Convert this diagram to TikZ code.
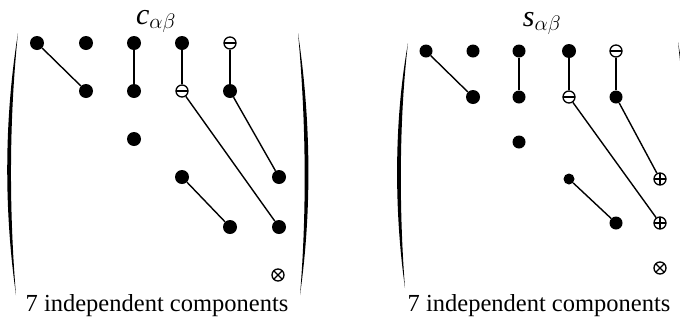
\RequirePackage{fix-cm}
\documentclass[tikz,border=0pt]{standalone}
\usepackage{fontspec}
\setmainfont{Liberation Serif}
\usepackage{tikz}

\begin{document}
\begin{tikzpicture}[x=1pt,y=-1pt,
  dot/.style={circle,fill,inner sep=0pt,minimum size=14pt},
  sdot/.style={dot,minimum size=13pt},
  tdot/.style={dot,minimum size=11pt},
  ring/.style={circle,draw,line width=1.3pt,inner sep=0pt,minimum size=12pt},
  minusring/.style={ring,path picture={\draw[line width=1.3pt] (path picture bounding box.west) -- (path picture bounding box.east);}},
  plusring/.style={ring,path picture={\draw[line width=1.3pt] (path picture bounding box.west) -- (path picture bounding box.east) (path picture bounding box.north) -- (path picture bounding box.south);}},
  timesring/.style={ring,path picture={\draw[line width=1.3pt] (path picture bounding box.north west) -- (path picture bounding box.south east) (path picture bounding box.north east) -- (path picture bounding box.south west);}},
  link/.style={line width=1.4pt},
  title/.style={anchor=base,inner sep=0pt,font=\fontsize{30}{34}\selectfont},
  caption/.style={font=\fontsize{24.5}{29}\selectfont}]
\useasboundingbox (0,0) rectangle (680,322);
% c matrix
\node[title] (ctitle) at (156,24) {\textit{c}$_{\alpha\beta}$};
\node[dot] (c11) at (37,43) {};
\node[dot] (c12) at (86,43) {};
\node[dot] (c13) at (134,43) {};
\node[dot] (c14) at (182,43) {};
\node[minusring] (c15) at (230,43) {};
\node[dot] (c22) at (86,91) {};
\node[dot] (c23) at (134,91) {};
\node[minusring] (c24) at (182,91) {};
\node[dot] (c25) at (230,91) {};
\node[dot] (c33) at (134,139) {};
\node[dot] (c44) at (182,177) {};
\node[dot] (c46) at (279,177) {};
\node[dot] (c55) at (230,227) {};
\node[dot] (c56) at (279,227) {};
\node[timesring] (c66) at (278,275) {};
\draw[link] (c11) -- (c22);
\draw[link] (c13) -- (c23);
\draw[link] (c14) -- (c24);
\draw[link] (c15) -- (c25);
\draw[link] (c24) -- (c56);
\draw[link] (c25) -- (c46);
\draw[link] (c44) -- (c55);
\fill (18,33) .. controls (4,120) and (4,210) .. (16,295)
  .. controls (9,210) and (9,120) .. (18,33);
\fill (298,33) .. controls (311,120) and (312,210) .. (300,295)
  .. controls (307,210) and (306,120) .. (298,33);
\node[caption] (ccap) at (157,306) {7 independent components};
% s matrix
\node[title] (stitle) at (542,26) {\textit{s}$_{\alpha\beta}$};
\node[sdot] (s11) at (426,51) {};
\node[sdot] (s12) at (473,51) {};
\node[sdot] (s13) at (519,51) {};
\node[dot] (s14) at (569,51) {};
\node[minusring] (s15) at (616,51) {};
\node[dot] (s22) at (473,97) {};
\node[sdot] (s23) at (519,97) {};
\node[minusring] (s24) at (569,97) {};
\node[sdot] (s25) at (616,97) {};
\node[sdot] (s33) at (519,142) {};
\node[tdot] (s44) at (569,179) {};
\node[plusring] (s46) at (660,179) {};
\node[sdot] (s55) at (616,223) {};
\node[plusring] (s56) at (660,223) {};
\node[timesring] (s66) at (660,268) {};
\draw[link] (s11) -- (s22);
\draw[link] (s13) -- (s23);
\draw[link] (s14) -- (s24);
\draw[link] (s15) -- (s25);
\draw[link] (s24) -- (s56);
\draw[link] (s25) -- (s46);
\draw[link] (s44) -- (s55);
\fill (408,43) .. controls (394,120) and (394,210) .. (405,288)
  .. controls (399,210) and (399,120) .. (408,43);
\fill (678,42) .. controls (692,120) and (694,210) .. (684,290)
  .. controls (689,210) and (687,120) .. (678,42);
\node[caption] (scap) at (539,306) {7 independent components};
\end{tikzpicture}
\end{document}
